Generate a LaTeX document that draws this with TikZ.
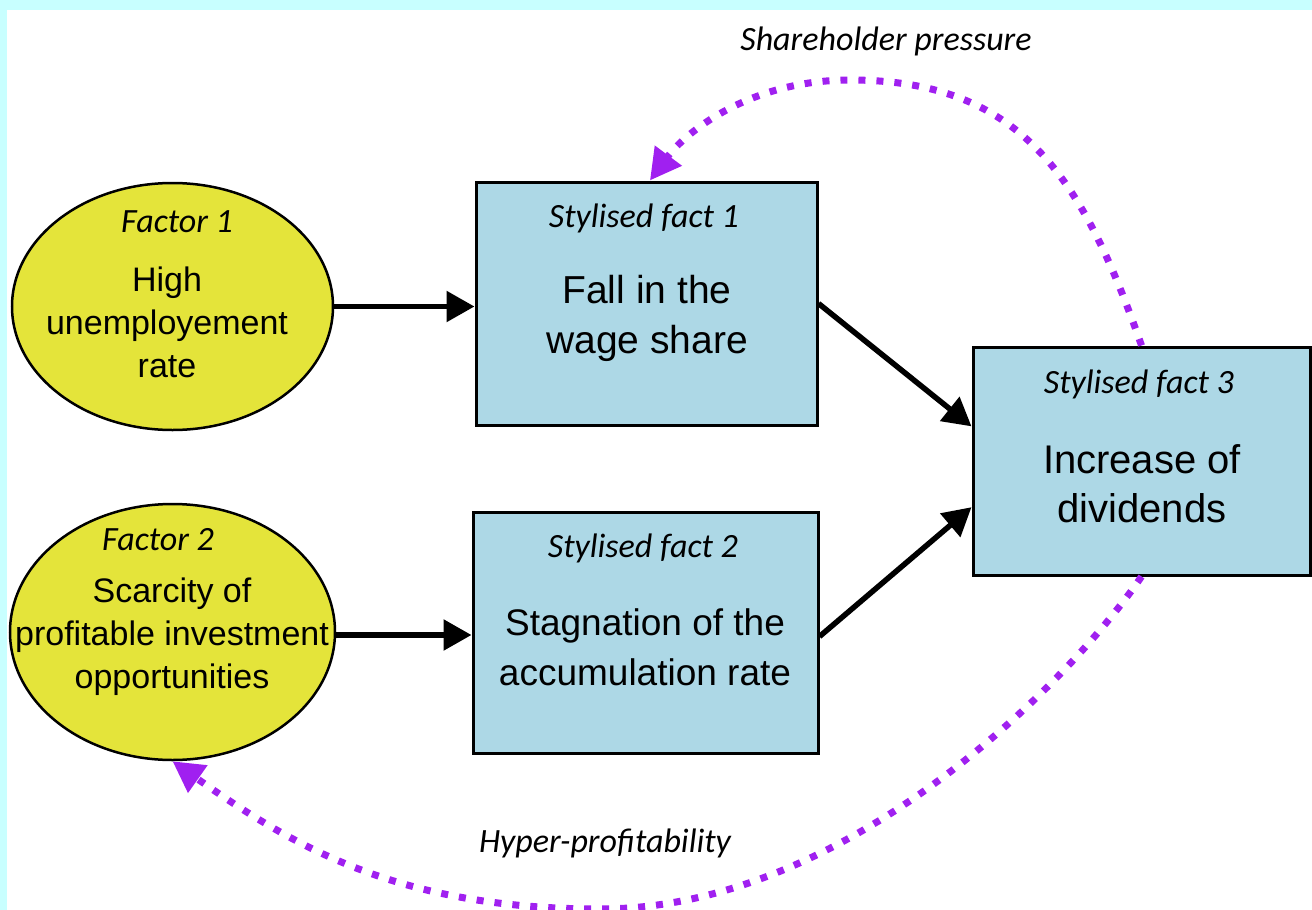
\documentclass[tikz,border=0pt]{standalone}
\usepackage{fontspec}
\setmainfont{Liberation Sans}
\newfontfamily\labfont{Carlito}
\usetikzlibrary{shapes.geometric,arrows.meta,calc}
\definecolor{bgcyan}{RGB}{200,255,255}
\definecolor{ellyellow}{RGB}{228,228,58}
\definecolor{boxblue}{RGB}{173,216,230}
\definecolor{dotpurple}{RGB}{160,32,240}
\begin{document}
\begin{tikzpicture}[x=1pt,y=-1pt,
  factorshape/.style={ellipse,draw=black,line width=2.5pt,fill=ellyellow,inner sep=0pt},
  factbox/.style={rectangle,draw=black,line width=3pt,fill=boxblue,inner sep=0pt},
  tag/.style={font=\labfont\itshape\fontsize{34}{40}\selectfont,anchor=base,inner sep=0pt},
  maintext/.style={align=center,anchor=base,inner sep=0pt},
  mainarrow/.style={line width=5.5pt,-{Triangle[length=28pt,width=30pt]}},
  loopback/.style={draw=dotpurple,line width=7pt,dash pattern=on 7pt off 11pt,
    -{Triangle[length=31pt,width=32pt,fill=dotpurple]}}
]
\useasboundingbox (0,0) rectangle (1312,910);
\fill[bgcyan] (0,0) rectangle (1312,910);
\fill[white] (7,10) rectangle (1312,910);

% shapes
\node[factorshape,minimum width=321pt,minimum height=247pt] (e1) at (172.5,306.5) {};
\node[factorshape,minimum width=325pt,minimum height=256pt] (e2) at (172.5,632) {};
\node[factbox,minimum width=341pt,minimum height=243pt] (b1) at (646.5,303.5) {};
\node[factbox,minimum width=345pt,minimum height=241pt] (b2) at (645.5,632.5) {};
\node[factbox,minimum width=337pt,minimum height=228pt] (b3) at (1141.5,461) {};

% texts (base anchor = baseline of the last line)
\node[tag] (e1tag) at (177,232) {Factor 1};
\node[maintext,font=\fontsize{34}{43}\selectfont] (e1txt) at (167,377) {High\\unemployement\\rate};
\node[tag] (e2tag) at (158,550) {Factor 2};
\node[maintext,font=\fontsize{34}{43}\selectfont] (e2txt) at (172,688) {Scarcity of\\profitable investment\\opportunities};
\node[tag] (b1tag) at (644,227) {Stylised fact 1};
\node[maintext,font=\fontsize{39}{50}\selectfont] (b1txt) at (647,353) {Fall in the\\wage share};
\node[tag] (b2tag) at (643,557) {Stylised fact 2};
\node[maintext,font=\fontsize{37}{50}\selectfont] (b2txt) at (645,685) {Stagnation of the\\accumulation rate};
\node[tag] (b3tag) at (1139,393) {Stylised fact 3};
\node[maintext,font=\fontsize{40}{49}\selectfont] (b3txt) at (1142,522) {Increase of\\dividends};
\node[tag] (shtag) at (886,50) {Shareholder pressure};
\node[tag] (hptag) at (605,852) {Hyper-profitability};

% black arrows
\draw[mainarrow] (e1.east) -- (e1.east -| b1.west);
\draw[mainarrow] ([yshift=-3pt]e2.east) -- ([yshift=-3pt]e2.east -| b2.west);
\draw[mainarrow] (b1.east) -- ($(b3.north west)!0.35!(b3.south west)$);
\draw[mainarrow] ([yshift=-4pt]b2.east) -- ($(b3.north west)!0.70!(b3.south west)$);

% purple dotted feedback arrows
\draw[loopback] (b3.north) .. controls (1082,176) and (1020,80) .. (850,80)
   .. controls (750,80) and (686,132) .. ($(b1.north west)!0.51!(b1.north east)$);
\draw[loopback] (b3.south) .. controls (1074,676) and (850,909) .. (600,909)
   .. controls (400,909) and (294,847) .. (e2.south);
\end{tikzpicture}
\end{document}
